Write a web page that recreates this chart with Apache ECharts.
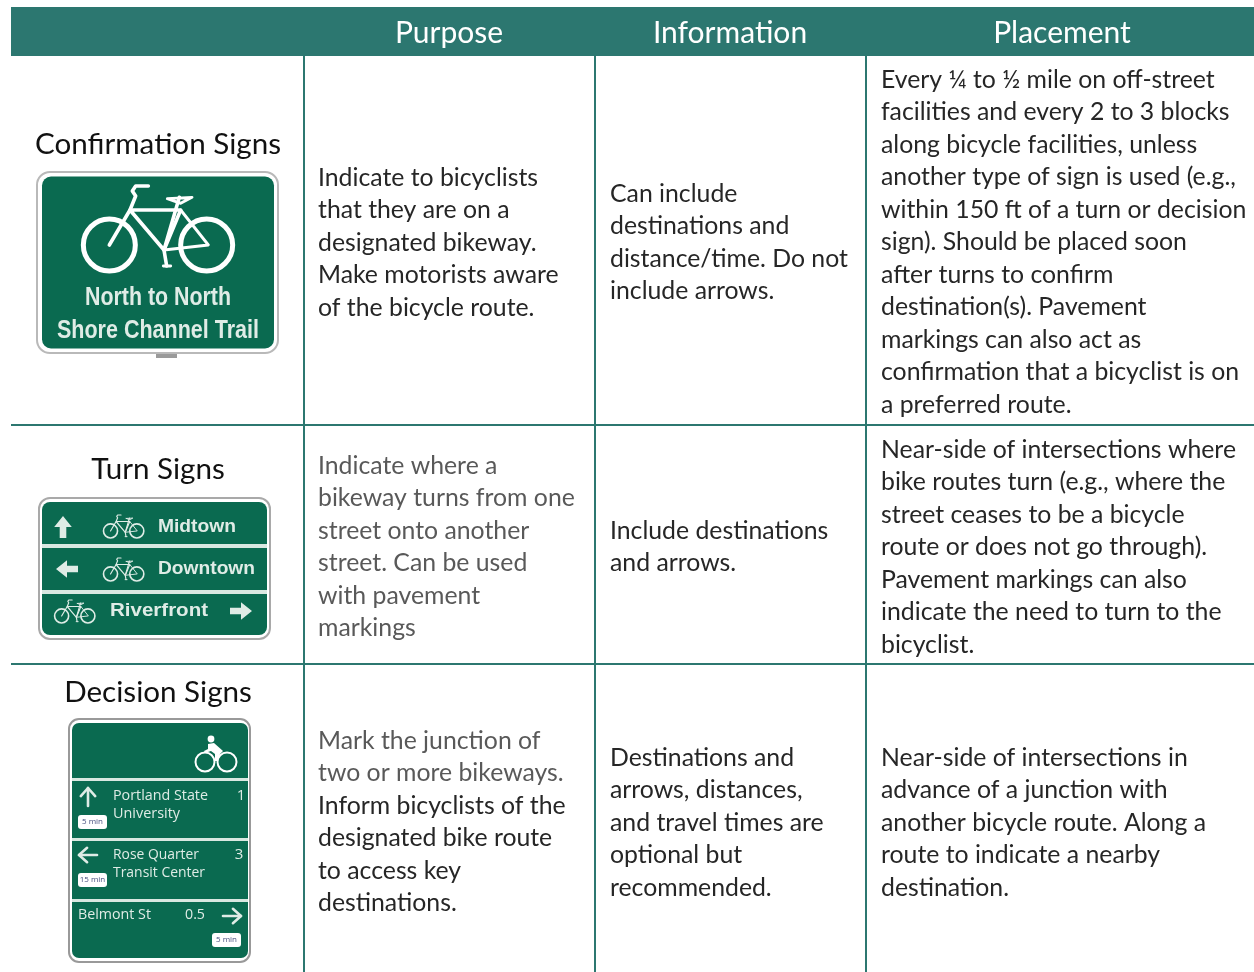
<!DOCTYPE html>
<html><head><meta charset="utf-8">
<style>html,body{margin:0;padding:0;background:#fff}#c{width:1254px;height:972px}</style>
<script src="https://cdn.jsdelivr.net/npm/echarts@6/dist/echarts.min.js"></script>
</head><body><div id="c"></div>
<script>
const headers=['Purpose','Information','Placement'];
const signNames=['Confirmation Signs','Turn Signs','Decision Signs'];
const purpose=[
 ['Indicate to bicyclists','that they are on a','designated bikeway.','Make motorists aware','of the bicycle route.'],
 ['Indicate where a','bikeway turns from one','street onto another','street. Can be used','with pavement','markings'],
 ['Mark the junction of','two or more bikeways.','Inform bicyclists of the','designated bike route','to access key','destinations.']];
const purposeGrayLines=[0,6,2];
const information=[
 ['Can include','destinations and','distance/time. Do not','include arrows.'],
 ['Include destinations','and arrows.'],
 ['Destinations and','arrows, distances,','and travel times are','optional but','recommended.']];
const placement=[
 ['Every ¼ to ½ mile on off-street','facilities and every 2 to 3 blocks','along bicycle facilities, unless','another type of sign is used (e.g.,','within 150 ft of a turn or decision','sign). Should be placed soon','after turns to confirm','destination(s). Pavement','markings can also act as','confirmation that a bicyclist is on','a preferred route.'],
 ['Near-side of intersections where','bike routes turn (e.g., where the','street ceases to be a bicycle','route or does not go through).','Pavement markings can also','indicate the need to turn to the','bicyclist.'],
 ['Near-side of intersections in','advance of a junction with','another bicycle route. Along a','route to indicate a nearby','destination.']];
const sign1Text=['North to North','Shore Channel Trail'];
const sign2Text=['Midtown','Downtown','Riverfront'];
const sign3Text=['Portland State','University','1','Rose Quarter','Transit Center','3','Belmont St','0.5'];
const sign3Times=['5 min','15 min','5 min'];

const TEAL='#2c7770',GREEN='#0a6a50',DARK='#262626',GRAY='#595959',SOFT='#dfece6',BODY='24.8px Lato, sans-serif';
const colX=[11,304,595,866,1254],rowY=[7,56,425,664,972],LH=32.5;
const els=[];
const ctx=document.createElement('canvas').getContext('2d');
function text(t,x,y,font,fill,align){els.push({type:'text',style:{text:t,x,y,font,fill,align:align||'left',verticalAlign:'middle'}});}
function fit(t,x,y,w,font,fill,h){ctx.font=font;const m=ctx.measureText(t).width;
 els.push({type:'group',x,y,scaleX:w/m,scaleY:h||1,children:[{type:'text',style:{text:t,x:0,y:0,font,fill,align:'left',verticalAlign:'middle'}}]});}
function rect(x,y,w,h,fill,r,stroke,lw){els.push({type:'rect',shape:{x,y,width:w,height:h,r:r||0},style:{fill,stroke:stroke||null,lineWidth:lw||0}});}
function poly(pts,lw,c){return {type:'polyline',shape:{points:pts},style:{fill:null,stroke:c,lineWidth:lw,lineCap:'round',lineJoin:'round'}};}
function arrow(x,y,dir,s,thin){
 const kids=thin?[poly([[-s,0],[s,0]],2.6,SOFT),poly([[s*.1,-s*.8],[s,0],[s*.1,s*.8]],2.6,SOFT)]
  :[{type:'polygon',shape:{points:[[-s,-s*.3],[0,-s*.3],[0,-s*.8],[s,0],[0,s*.8],[0,s*.3],[-s,s*.3]]},style:{fill:SOFT}}];
 els.push({type:'group',x,y,rotation:dir,children:kids});}
function bike(x,y,s,lw,c){
 const L=[268,255],R=[560,255],BB=[432,270],ST=[482,150],H=[330,150],f=lw*.72;
 els.push({type:'group',x,y,scaleX:s,scaleY:s,children:[
  {type:'circle',shape:{cx:L[0],cy:L[1],r:78},style:{fill:null,stroke:c,lineWidth:lw}},
  {type:'circle',shape:{cx:R[0],cy:R[1],r:78},style:{fill:null,stroke:c,lineWidth:lw}},
  poly([[385,78],[347,78],[337,93],[347,108],H,L],f,c),
  poly([H,ST,BB,H],f,c),
  poly([BB,[565,255],ST],f*.8,c),
  poly([[478,112],BB,[440,318]],f,c),
  poly([[442,116],[516,112],[482,130],[442,116]],f*.8,c),
  poly([[430,318],[452,318]],f*.8,c)
 ]});}

rect(colX[0],rowY[0],colX[4]-colX[0],rowY[1]-rowY[0],TEAL);
[colX[1],colX[2],colX[3]].forEach(x=>els.push({type:'line',shape:{x1:x,y1:rowY[1],x2:x,y2:rowY[4]},style:{stroke:TEAL,lineWidth:2}}));
[rowY[2],rowY[3]].forEach(y=>els.push({type:'line',shape:{x1:colX[0],y1:y,x2:colX[4],y2:y},style:{stroke:TEAL,lineWidth:2}}));
const headerCx=[449,730,1062];
headers.forEach((h,i)=>text(h,headerCx[i],33,'30px Lato, sans-serif','#fff','center'));
const nameY=[144,469,692];
signNames.forEach((n,i)=>text(n,158,nameY[i],'29.6px Lato, sans-serif','#111','center'));

const firstY=[[178,466,741],[194,531,758],[80,450,758]];
const cellPad=[14,15,15];
[purpose,information,placement].forEach((col,c)=>col.forEach((lines,r)=>lines.forEach((t,i)=>{
 const gray=c===0&&i<purposeGrayLines[r];
 text(t,colX[c+1]+cellPad[c],firstY[c][r]+i*LH,BODY,gray?GRAY:DARK);
})));

// sign 1
rect(156,350,21,8,'#9a9a9a');
rect(37,172,241,181,'#fff',13,'#b9b9b9',2);
rect(42,176.5,232,172,GREEN,9);
bike(20,160,1/3,15,'#fff');
const sf='bold 26px "Liberation Sans Narrow","Liberation Sans",sans-serif';
fit(sign1Text[0],85,298,146,sf,SOFT);
fit(sign1Text[1],57,331,202,sf,SOFT);

// sign 2
rect(39,498,231,141,'#fff',11,'#a9a9a9',2);
rect(42,502,225,133,GREEN,8);
rect(42,544,225,4,'#d9e8e1');rect(42,590,225,4,'#d9e8e1');
const tf='bold 18px "Liberation Sans",sans-serif';
fit(sign2Text[0],158,527,78,tf,SOFT);
fit(sign2Text[1],158,569,97,tf,SOFT);
fit(sign2Text[2],110,611,98,tf,SOFT);
arrow(63,527,Math.PI/2,11);arrow(67,569,Math.PI,11);arrow(241,611,0,11);
bike(86.4,508,.09,18,SOFT);bike(86.4,551,.09,18,SOFT);bike(37.5,593,.09,18,SOFT);

// sign 3
rect(69,719,181,243,'#fff',10,'#999',2);
rect(72,723,176,235,GREEN,7);
rect(72,778,176,3,'#d9e8e1');rect(72,838,176,3,'#d9e8e1');rect(72,899,176,3,'#d9e8e1');
const of='15px "Open Sans",sans-serif';
fit(sign3Text[0],113,796,95,of,SOFT);
fit(sign3Text[1],113,814,67,of,SOFT);
text(sign3Text[2],241,796,of,SOFT,'center');
fit(sign3Text[3],113,855,86,of,SOFT);
fit(sign3Text[4],113,873,92,of,SOFT);
text(sign3Text[5],239,855,of,SOFT,'center');
fit(sign3Text[6],78,915,73,of,SOFT);
fit(sign3Text[7],185,915,20,of,SOFT);
arrow(88,797,Math.PI/2,9,true);arrow(88,855,Math.PI,9,true);arrow(232,916,0,9,true);
[[78,815],[78,873],[212,933]].forEach((p,i)=>{
 rect(p[0],p[1],29,14,'#fff',3);
 text(sign3Times[i],p[0]+14.5,p[1]+7,'8px "Open Sans",sans-serif','#47507f','center');
});
// cyclist
els.push({type:'circle',shape:{cx:205,cy:762,r:9.5},style:{fill:null,stroke:'#fff',lineWidth:2}});
els.push({type:'circle',shape:{cx:227,cy:762,r:9.5},style:{fill:null,stroke:'#fff',lineWidth:2}});
els.push({type:'circle',shape:{cx:211,cy:739,r:3.4},style:{fill:'#fff'}});
els.push({type:'polygon',shape:{points:[[208,744],[214,743],[223,751],[220,754],[218,761],[215,761],[215,754],[211,751],[205,753],[204,751],[208,749]]},style:{fill:'#fff'}});

const chart=echarts.init(document.getElementById('c'),null,{renderer:'canvas'});
chart.setOption({animation:false,backgroundColor:'#fff',graphic:{elements:els}});
</script></body></html>
